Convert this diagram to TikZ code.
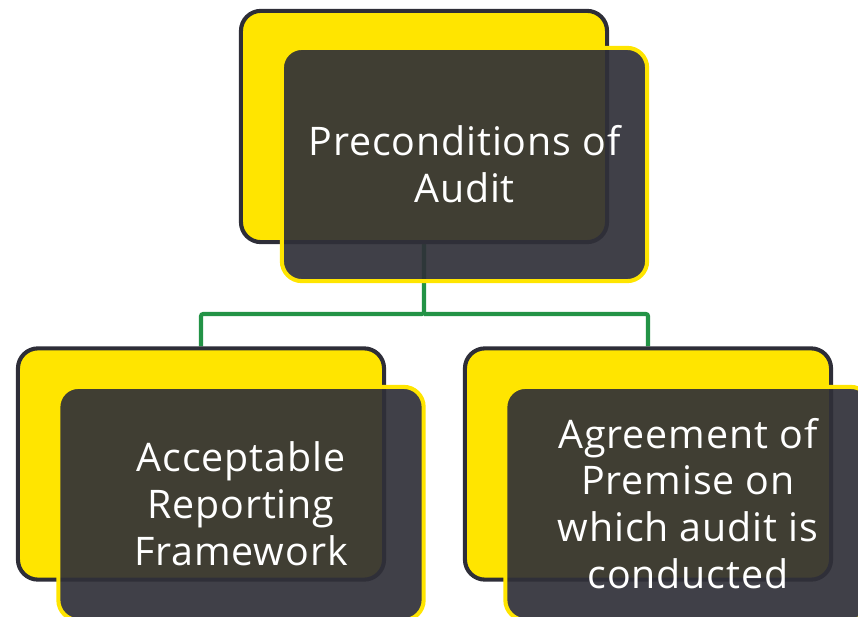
\documentclass[tikz,border=0pt]{standalone}
\usepackage{fontspec}
\setmainfont{Open Sans}[Ligatures=NoCommon, LetterSpace=2.2]
\usetikzlibrary{backgrounds}
\definecolor{boxyellow}{RGB}{255,229,0}
\definecolor{boxdark}{RGB}{48,48,56}
\definecolor{boxline}{RGB}{46,46,56}
\definecolor{linkgreen}{RGB}{35,147,70}

\begin{document}
\begin{tikzpicture}[x=0.025cm, y=-0.025cm,
	back/.style={fill=boxyellow, draw=boxline, line width=2.9pt, rounded corners=0.5cm, minimum width=9.15cm, minimum height=5.78cm},
	front/.style={fill=boxdark, fill opacity=0.92, text opacity=1, draw=boxyellow, line width=2.9pt, rounded corners=0.5cm, minimum width=9.13cm, minimum height=5.83cm, text=white, align=center, font=\fontsize{28}{33.3}\selectfont},
	link/.style={draw=linkgreen, line width=2.9pt, rounded corners=1.5pt}]
	\useasboundingbox (0,0) rectangle (858,617);
	\clip (0,0) rectangle (858,617);
	\draw (424,126.5) node[back](top1) {};
	\draw (464.5,164.5) node[front](top2) {Preconditions of\\Audit};
	\draw (201,464) node[back](left1) {};
	\draw (241,503.5) node[front](left2) {Acceptable\\Reporting\\Framework};
	\draw (648,464) node[back](right1) {};
	\draw (688,503.5) node[front](right2) {Agreement of\\Premise on\\which audit is\\conducted};
	\begin{pgfonlayer}{background}
	\coordinate (bus) at (424,314);
	\draw[link] (top1) -- (bus) -| (left1.north);
	\draw[link] (bus) -| (right1.north);
	\end{pgfonlayer}
\end{tikzpicture}
\end{document}
